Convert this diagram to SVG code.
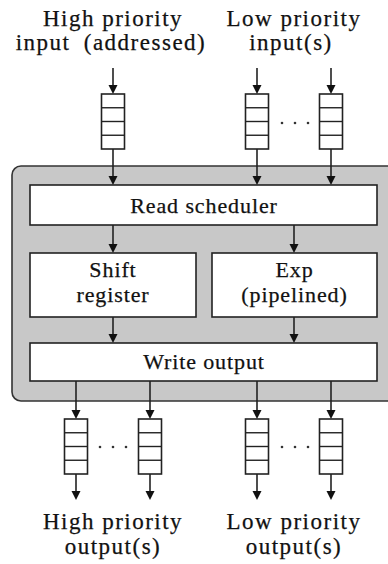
<svg xmlns="http://www.w3.org/2000/svg" width="388" height="564" viewBox="0 0 388 564">
<defs>
<style>
text{font-family:"Liberation Serif",serif;font-size:22px;fill:#111;stroke:#111;stroke-width:0.25;text-anchor:middle;letter-spacing:0.9px}
.lbl{font-size:23px;letter-spacing:1.5px}
.box{fill:#fff;stroke:#222;stroke-width:1.6}
.q{fill:#fff;stroke:#222;stroke-width:1.6}
.ql{stroke:#222;stroke-width:1.4}
.c{stroke:#222;stroke-width:1.6;fill:none}
.dot{fill:#333}
</style>
<path id="ah" d="M-4.5,-9 L4.5,-9 L0,0 Z" fill="#111"/>
<g id="queue"><rect class="q" x="-11.5" y="0" width="23" height="55"/><line class="ql" x1="-11.5" y1="13.75" x2="11.5" y2="13.75"/><line class="ql" x1="-11.5" y1="27.5" x2="11.5" y2="27.5"/><line class="ql" x1="-11.5" y1="41.25" x2="11.5" y2="41.25"/></g>
</defs>
<g id="labels-top">
<text class="lbl" x="113" y="26">High priority</text>
<text class="lbl" x="111" y="50" word-spacing="6">input (addressed)</text>
<text class="lbl" x="294" y="26">Low priority</text>
<text class="lbl" x="291" y="50">input(s)</text>
</g>
<g id="container"><rect x="12" y="166" width="390" height="235" rx="9" fill="#c8c8c8" stroke="#333" stroke-width="1.6"/></g>
<g id="connectors">
<line class="c" x1="113" y1="68" x2="113" y2="88"/><use href="#ah" x="113" y="94"/>
<line class="c" x1="257" y1="68" x2="257" y2="88"/><use href="#ah" x="257" y="94"/>
<line class="c" x1="331" y1="68" x2="331" y2="88"/><use href="#ah" x="331" y="94"/>
<line class="c" x1="113" y1="149" x2="113" y2="178"/><use href="#ah" x="113" y="185"/>
<line class="c" x1="257" y1="149" x2="257" y2="178"/><use href="#ah" x="257" y="185"/>
<line class="c" x1="331" y1="149" x2="331" y2="178"/><use href="#ah" x="331" y="185"/>
<line class="c" x1="113" y1="225" x2="113" y2="247"/><use href="#ah" x="113" y="253"/>
<line class="c" x1="294" y1="225" x2="294" y2="247"/><use href="#ah" x="294" y="253"/>
<line class="c" x1="113" y1="317" x2="113" y2="337"/><use href="#ah" x="113" y="343"/>
<line class="c" x1="294" y1="317" x2="294" y2="337"/><use href="#ah" x="294" y="343"/>
<line class="c" x1="76" y1="381" x2="76" y2="413"/><use href="#ah" x="76" y="419"/>
<line class="c" x1="150" y1="381" x2="150" y2="413"/><use href="#ah" x="150" y="419"/>
<line class="c" x1="257" y1="381" x2="257" y2="413"/><use href="#ah" x="257" y="419"/>
<line class="c" x1="331" y1="381" x2="331" y2="413"/><use href="#ah" x="331" y="419"/>
<line class="c" x1="76" y1="474" x2="76" y2="494"/><use href="#ah" x="76" y="500"/>
<line class="c" x1="150" y1="474" x2="150" y2="494"/><use href="#ah" x="150" y="500"/>
<line class="c" x1="257" y1="474" x2="257" y2="494"/><use href="#ah" x="257" y="500"/>
<line class="c" x1="331" y1="474" x2="331" y2="494"/><use href="#ah" x="331" y="500"/>
</g>
<g id="in-queue-high"><use href="#queue" x="113" y="94"/></g>
<g id="in-queue-low1"><use href="#queue" x="257" y="94"/></g>
<g id="in-queue-low2"><use href="#queue" x="331" y="94"/></g>
<g id="in-dots"><circle class="dot" cx="282" cy="123" r="1.3"/><circle class="dot" cx="295" cy="123" r="1.3"/><circle class="dot" cx="308" cy="123" r="1.3"/></g>
<g id="read-scheduler"><rect class="box" x="30" y="185" width="347" height="40"/><text x="204" y="213">Read scheduler</text></g>
<g id="shift-register"><rect class="box" x="30" y="253" width="166" height="64"/><text x="113" y="277">Shift</text><text x="113" y="302">register</text></g>
<g id="exp"><rect class="box" x="212" y="253" width="165" height="64"/><text x="294.5" y="277">Exp</text><text x="294.5" y="302">(pipelined)</text></g>
<g id="write-output"><rect class="box" x="30" y="343" width="347" height="38"/><text x="204" y="369">Write output</text></g>
<g id="out-queue-high1"><use href="#queue" x="76" y="419"/></g>
<g id="out-queue-high2"><use href="#queue" x="150" y="419"/></g>
<g id="out-queue-low1"><use href="#queue" x="257" y="419"/></g>
<g id="out-queue-low2"><use href="#queue" x="331" y="419"/></g>
<g id="out-dots"><circle class="dot" cx="100" cy="447" r="1.3"/><circle class="dot" cx="113" cy="447" r="1.3"/><circle class="dot" cx="126" cy="447" r="1.3"/><circle class="dot" cx="282" cy="447" r="1.3"/><circle class="dot" cx="295" cy="447" r="1.3"/><circle class="dot" cx="308" cy="447" r="1.3"/></g>
<g id="labels-bottom">
<text class="lbl" x="113" y="529">High priority</text>
<text class="lbl" x="113" y="554">output(s)</text>
<text class="lbl" x="294" y="529">Low priority</text>
<text class="lbl" x="294" y="554">output(s)</text>
</g>
</svg>
